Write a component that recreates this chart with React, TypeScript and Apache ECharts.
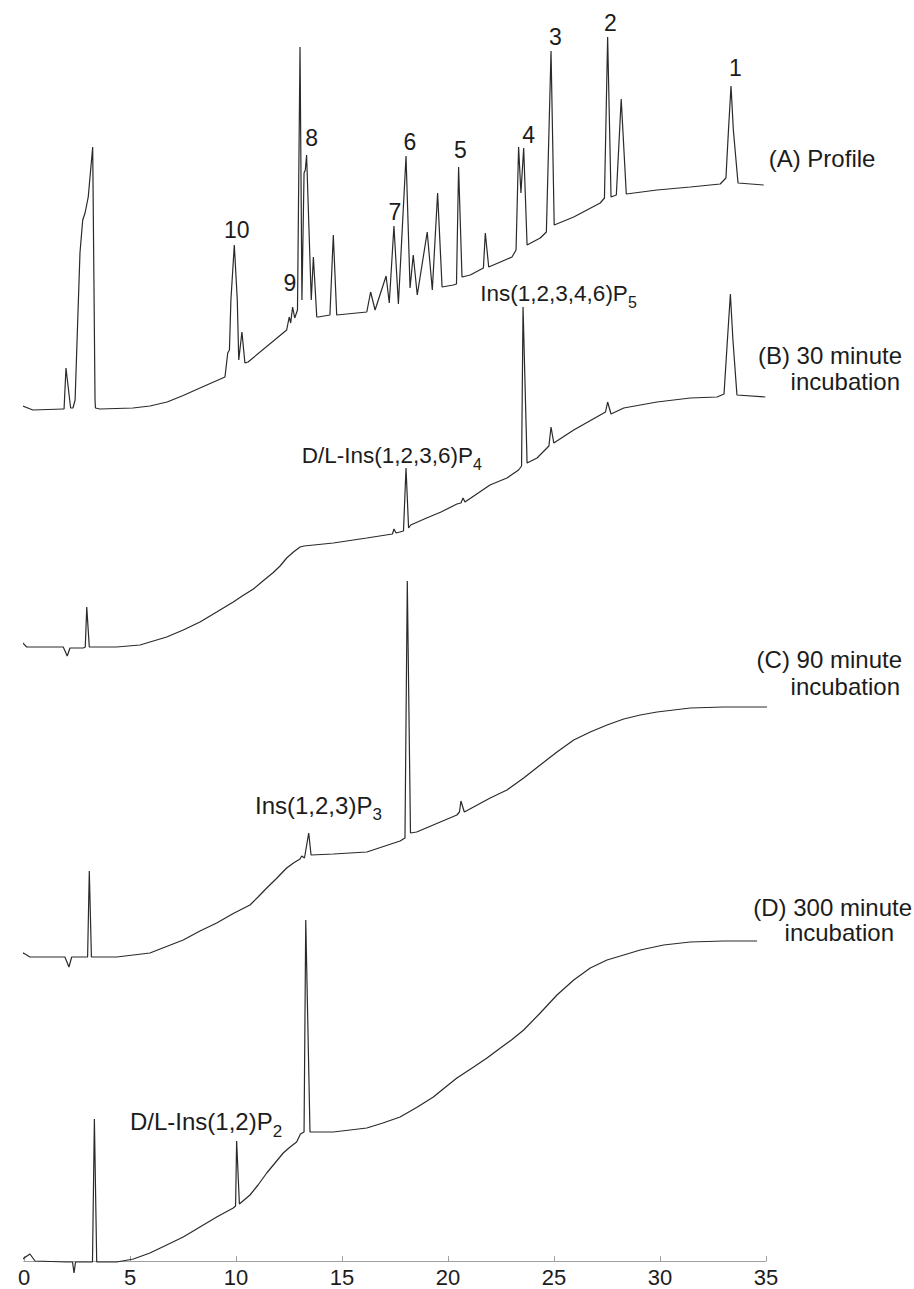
import React, { useEffect, useRef } from "react";
import * as echarts from "echarts";

// x axis ticks (retention time, min)
const xTicks = [0, 5, 10, 15, 20, 25, 30, 35];

// [retention time (min), detector signal (a.u., traces stacked)]
const traceA: number[][] = [
  [-0.34, 852], [-0.06, 855], [0.42, 851], [1.84, 852], [1.89, 852], [1.98, 893], [2.2, 853], [2.31, 853],
  [2.41, 861], [2.64, 1008], [2.77, 1041], [2.88, 1048], [3.03, 1064], [3.24, 1114], [3.35, 861], [3.37, 853],
  [3.58, 852], [5.14, 853], [5.94, 855], [6.75, 859], [7.51, 865.5], [8.3, 873], [8.89, 878.5], [9.48, 884],
  [9.61, 908], [9.69, 911], [9.76, 961], [9.92, 1016],
  [10.06, 961], [10.13, 901], [10.28, 929], [10.42, 898], [10.57, 899], [12.39, 931], [12.51, 944], [12.58, 938],
  [12.67, 954], [12.77, 943], [12.9, 951], [13.02, 1214], [13.11, 961], [13.21, 1088], [13.27, 1091], [13.33, 1106],
  [13.55, 961], [13.65, 1004], [13.81, 944], [13.88, 944], [14.43, 946], [14.59, 1026], [14.75, 946], [16.17, 949],
  [16.35, 969], [16.56, 951], [17.08, 985], [17.23, 958], [17.45, 1035], [17.66, 957], [18.02, 1105], [18.21, 973],
  [18.36, 1006], [18.55, 966], [19.02, 1029], [19.26, 971], [19.51, 1068], [19.72, 974], [20.25, 976], [20.4, 977],
  [20.5, 1094], [20.66, 984], [21.05, 986], [21.67, 993], [21.76, 1028], [21.92, 994], [23.02, 1004], [23.21, 1011],
  [23.33, 1114], [23.44, 1068], [23.57, 1113], [23.73, 1016], [24.35, 1023], [24.64, 1029], [24.86, 1210], [25.01, 1036],
  [25.93, 1044], [27.18, 1058], [27.38, 1063], [27.53, 1224], [27.69, 1064], [27.94, 1066], [28.17, 1162], [28.41, 1067],
  [29.86, 1071], [31.43, 1074], [32.84, 1077], [33.11, 1083], [33.23, 1131], [33.35, 1175], [33.46, 1131], [33.68, 1078],
  [34.89, 1076],
];

const traceB: number[][] = [
  [-0.34, 615], [-0.06, 618], [0.13, 614], [1.85, 614], [2.04, 605], [2.17, 613], [2.8, 613], [2.89, 614],
  [2.96, 654], [3.08, 614], [4.37, 614], [5.47, 616], [6.73, 624], [7.51, 631], [8.3, 639], [9.09, 649],
  [9.87, 659], [10.33, 665.5], [10.82, 672], [11.27, 680], [11.76, 688.5], [12.08, 695], [12.39, 703],
  [12.71, 709], [13.02, 714], [13.21, 715], [14.59, 718], [16.17, 723], [17.38, 727], [17.45, 732],
  [17.55, 728], [17.9, 730], [18.02, 793], [18.14, 733], [18.24, 736], [18.99, 743], [19.67, 749], [20.42, 757],
  [20.61, 758], [20.71, 763], [20.8, 759], [21.98, 776], [22.78, 783], [23.33, 791], [23.47, 795], [23.54, 954],
  [23.73, 798], [24.2, 803], [24.76, 815], [24.86, 834], [24.99, 818], [25.93, 831], [27.18, 846], [27.43, 849],
  [27.53, 859], [27.69, 847], [28.29, 853], [29.86, 859], [31.43, 863], [32.69, 864], [33.02, 867], [33.18, 921],
  [33.32, 967], [33.44, 921], [33.63, 866], [34.97, 864],
];

const traceC: number[][] = [
  [-0.27, 303], [-0.03, 308], [0.28, 304], [1.93, 304], [2.12, 294], [2.25, 304], [3.0, 304], [3.08, 390],
  [3.18, 304], [4.37, 304], [5.94, 308], [7.51, 321], [8.3, 330], [9.09, 338], [9.87, 347.5], [10.66, 356],
  [11.04, 364], [11.45, 373], [11.91, 382.5], [12.39, 393], [12.71, 398], [13.02, 402], [13.1, 405], [13.23, 403],
  [13.43, 428], [13.54, 406], [14.59, 407], [16.17, 409], [17.74, 420],
  [17.97, 423], [18.08, 680], [18.23, 428], [18.52, 429], [20.42, 446], [20.54, 449], [20.61, 460], [20.77, 449],
  [21.99, 463], [22.78, 471], [23.57, 483], [24.35, 496], [25.14, 509], [25.93, 521], [26.71, 529], [27.5, 536],
  [28.29, 542], [29.07, 546], [29.86, 549], [31.43, 553], [33.0, 554], [35.05, 554],
];

const traceD: number[][] = [
  [-0.27, -1], [0.28, 7], [0.52, 0], [2.01, -1], [2.29, -1], [2.36, -12], [2.43, -1], [3.23, -1], [3.32, 142],
  [3.43, -1], [4.37, -1], [5.16, 2], [5.94, 8], [6.73, 16], [7.51, 24], [8.3, 34], [9.09, 44], [9.87, 53],
  [9.98, 55], [10.03, 120], [10.16, 57], [10.66, 66], [11.04, 76], [11.45, 88], [11.84, 98], [12.23, 108],
  [12.55, 114], [12.86, 119], [13.04, 127], [13.21, 129], [13.29, 341], [13.49, 129], [14.59, 129], [16.17, 133],
  [16.93, 138], [17.74, 144], [18.52, 153.5], [19.31, 164], [19.86, 173.5], [20.42, 183], [21.21, 194],
  [21.84, 203], [22.47, 213], [23.02, 221.5], [23.57, 231], [24.35, 248], [25.14, 266], [25.93, 281],
  [26.71, 293], [27.5, 301], [28.29, 306], [29.07, 311], [30.17, 316], [31.43, 319], [33.0, 320], [34.58, 320],
];

const seriesNames = ["(A) Profile", "(B) 30 minute incubation", "(C) 90 minute incubation", "(D) 300 minute incubation"];
const peakNumbers = ["1", "2", "3", "4", "5", "6", "7", "8", "9", "10"];

const FONT = "'Liberation Sans', Arial, Helvetica, sans-serif";
const INK = "#1c1c1c";

function txt(text: string, x: number, y: number, size: number, align: string = "center") {
  return {
    type: "text",
    x,
    y,
    silent: true,
    style: {
      text,
      fontSize: size,
      fontFamily: FONT,
      fill: INK,
      align,
      verticalAlign: "middle",
      textAlign: align,
      textVerticalAlign: "middle",
    },
  };
}

function chem(main: string, sub: string, x: number, cy: number, size: number, subSize: number, off: number) {
  return {
    type: "text",
    x,
    y: cy - size / 2,
    silent: true,
    style: {
      text: `{m|${main}}{s|${sub}}`,
      align: "left",
      verticalAlign: "top",
      textAlign: "left",
      textVerticalAlign: "top",
      fill: INK,
      rich: {
        m: { fontSize: size, fontFamily: FONT, fill: INK, lineHeight: size, verticalAlign: "top" },
        s: { fontSize: subSize, fontFamily: FONT, fill: INK, lineHeight: size + 2 * off, verticalAlign: "middle" },
      },
    },
  };
}

export default function App() {
  const ref = useRef<HTMLDivElement>(null);

  useEffect(() => {
    document.body.style.margin = "0";
    const el = ref.current;
    if (!el) return;
    const chart = echarts.init(el, null, { renderer: "svg" });

    const traces = [traceA, traceB, traceC, traceD];
    const numPos: number[][] = [
      [735.3, 68], [610.3, 23], [555.3, 37], [528.7, 135], [460.3, 150],
      [410, 142], [395, 212], [311.7, 138], [290, 283], [236.7, 230],
    ];

    const graphic: any[] = [];
    peakNumbers.forEach((n, i) => graphic.push(txt(n, numPos[i][0], numPos[i][1], 23)));
    graphic.push(txt("(A) Profile", 768.7, 158.3, 24, "left"));
    graphic.push(txt("(B) 30 minute", 902, 355, 24, "right"));
    graphic.push(txt("incubation", 900, 381, 24, "right"));
    graphic.push(txt("(C) 90 minute", 902, 659, 24, "right"));
    graphic.push(txt("incubation", 900, 686, 24, "right"));
    graphic.push(txt("(D) 300 minute", 912, 907, 24, "right"));
    graphic.push(txt("incubation", 894, 932, 24, "right"));
    graphic.push(chem("Ins(1,2,3,4,6)P", "5", 480.3, 293.3, 22.5, 16, 9.5));
    graphic.push(chem("D/L-Ins(1,2,3,6)P", "4", 301.7, 455, 22.5, 16, 9.5));
    graphic.push(chem("Ins(1,2,3)P", "3", 255, 805, 24, 17, 9.5));
    graphic.push(chem("D/L-Ins(1,2)P", "2", 130, 1121.7, 24, 17, 9.5));

    chart.setOption({
      animation: false,
      backgroundColor: "#ffffff",
      grid: { left: 24, right: 148, top: 0, bottom: 28, containLabel: false, outerBoundsMode: "none" },
      xAxis: {
        type: "value",
        min: xTicks[0],
        max: xTicks[xTicks.length - 1],
        interval: xTicks[1] - xTicks[0],
        axisLine: { onZero: false, lineStyle: { color: "#a0a0a0", width: 1 } },
        axisTick: { show: true, inside: true, length: 5, lineStyle: { color: "#a0a0a0", width: 1 } },
        axisLabel: { margin: 5, fontSize: 22, color: INK, fontFamily: FONT },
        splitLine: { show: false },
      },
      yAxis: { type: "value", min: 0, max: 1261, show: false, splitLine: { show: false } },
      series: traces.map((d, i) => ({
        name: seriesNames[i],
        type: "line",
        data: d,
        symbol: "none",
        showSymbol: false,
        clip: false,
        silent: true,
        lineStyle: { color: "#2a2a2a", width: 1.2 },
      })),
      graphic,
    });

    return () => chart.dispose();
  }, []);

  return (
    <div
      ref={ref}
      style={{ position: "absolute", left: 0, top: 0, width: 914, height: 1289, background: "#fff" }}
    />
  );
}
